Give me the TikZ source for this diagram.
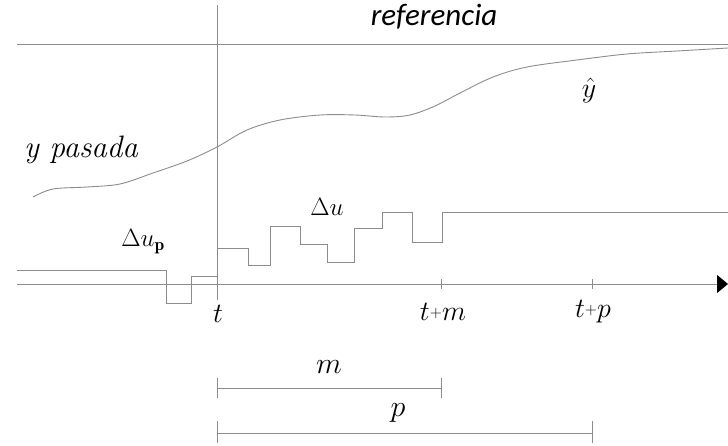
\RequirePackage{fix-cm}
\documentclass[tikz,border=0pt]{standalone}
\usepackage{fontspec}
\newfontfamily\calfont{Carlito}
\usetikzlibrary{arrows.meta}
\tikzset{
  gline/.style={draw=black!45, line width=0.9pt},
  hline/.style={draw=black!45, line width=0.6pt},
  lbl/.style={inner sep=0pt, font=\fontsize{31}{34}\selectfont\itshape},
  mlbl/.style={inner sep=0pt, font=\fontsize{28}{32}\selectfont}
}
\newcommand{\smallplus}{\raisebox{3pt}{\fontsize{16}{18}\selectfont$+$}}
\begin{document}
\begin{tikzpicture}[x=1pt,y=-1pt]
\useasboundingbox (0,0) rectangle (728,446);
% reference line
\coordinate (r0) at (17,44); \coordinate (r1) at (728,44);
\draw[gline] (r0) -- (r1);
% vertical line at t
\coordinate (v0) at (217,5); \coordinate (v1) at (217,300);
\draw[gline] (v0) -- (v1);
% time axis
\coordinate (a0) at (17,284); \coordinate (a1) at (728,284);
\draw[gline, -{Triangle[length=11pt,width=18pt,fill=black,color=black]}] (a0) -- (a1);
% output curve
\draw[gline] plot[smooth, tension=0.55] coordinates {(33,197) (53,189) (87,187) (120,184) (153,173) (187,161) (217,147) (247,130) (280,120) (320,115) (355,115) (385,117) (410,115) (435,106) (460,93) (493,77) (527,67) (577,60) (627,54) (677,51) (728,48)};
% past input
\draw[gline] (17,270) -- (166,270) -- (166,303) -- (191,303) -- (191,276) -- (217,276);
% future input
\draw[gline] (217,248) -- (248,248) -- (248,265) -- (270,265) -- (270,226) -- (300,226) -- (300,244) -- (327,244) -- (327,262) -- (354,262) -- (354,228) -- (382,228) -- (382,212) -- (412,212) -- (412,242) -- (442,242) -- (442,212) -- (728,212);
% ticks
\coordinate (tm) at (441,284); \coordinate (tp) at (592,284);
\draw[gline] ([yshift=-5pt]tm) -- ([yshift=5pt]tm);
\draw[gline] ([yshift=-5pt]tp) -- ([yshift=5pt]tp);
% horizon intervals
\coordinate (m0) at (217,388); \coordinate (m1) at (441,388);
\coordinate (p0) at (217,433); \coordinate (p1) at (592,433);
\draw[hline] (m0) -- (m1);
\draw[hline] ([yshift=-10pt]m0) -- ([yshift=10pt]m0);
\draw[hline] ([yshift=-10pt]m1) -- ([yshift=10pt]m1);
\draw[hline] (p0) -- (p1);
\draw[hline] ([yshift=-10pt]p0) -- ([yshift=12pt]p0);
\draw[hline] ([yshift=-10pt]p1) -- ([yshift=12pt]p1);
% labels
\node[inner sep=0pt, font=\calfont\fontsize{31}{34}\selectfont\itshape] (lref) at (434,17) {referencia};
\node[lbl] (lyp) at (81,150) {y pasada};
\node[mlbl] (lyh) at (589,91) {$\hat{y}$};
\node[mlbl, font=\fontsize{25}{28}\selectfont] (ldu) at (327,207) {$\Delta u$};
\node[mlbl, font=\fontsize{25}{28}\selectfont] (ldup) at (143,242) {$\Delta u_{\mathbf{p}}$};
\node[mlbl] (lt) at (218,314) {$t$};
\node[mlbl] (ltm) at (443,312) {$t\smallplus m$};
\node[mlbl] (ltp) at (593,312) {$t\smallplus p$};
\node[mlbl, font=\fontsize{30}{34}\selectfont] (lm) at (329,367) {$m$};
\node[mlbl, font=\fontsize{30}{34}\selectfont] (lp) at (398,413) {$p$};
\end{tikzpicture}
\end{document}
